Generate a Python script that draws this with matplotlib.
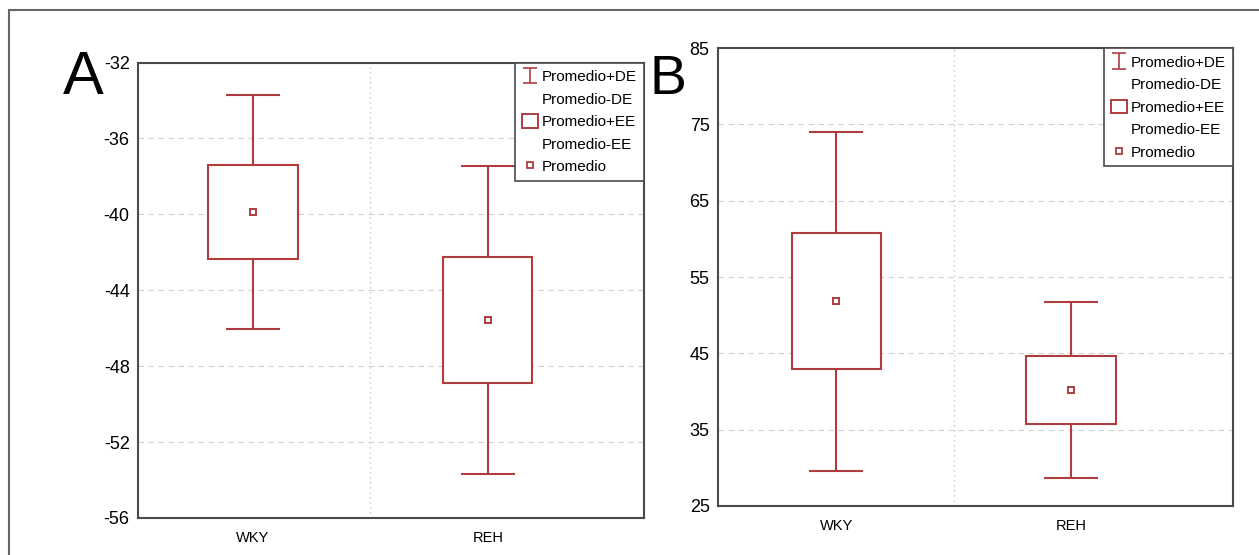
import numpy as np
import matplotlib
matplotlib.use("Agg")
import matplotlib.pyplot as plt
from matplotlib.lines import Line2D
from matplotlib.patches import Rectangle

# datos
categorias = ["WKY", "REH"]

# panel A
promedio_a = [-39.87, -45.55]
ee_a = [2.48, 3.32]
de_a = [6.18, 8.12]

# panel B
promedio_b = [51.85, 40.2]
ee_b = [8.87, 4.49]
de_b = [22.2, 11.55]

etiquetas = ["Promedio+DE", "Promedio-DE", "Promedio+EE", "Promedio-EE", "Promedio"]

rojo = "#b03c3e"
gris = "#4a4a4a"

plt.rcParams["font.family"] = ["Liberation Sans", "DejaVu Sans"]

fig = plt.figure(figsize=(12.59, 5.55), dpi=100)

# marco exterior (recortado a la derecha y abajo)
fig.add_artist(Rectangle((9 / 1259, -0.1), 1.2, 1 - 10 / 555 + 0.1,
                         transform=fig.transFigure, fill=False,
                         edgecolor="#666666", linewidth=1.5))


def panel(ax, promedio, ee, de, ylim, yticks, xlim):
    x = np.arange(1, len(categorias) + 1)
    promedio = np.array(promedio)
    ee = np.array(ee)
    de = np.array(de)

    # bigotes promedio +/- DE
    ax.errorbar(x, promedio, yerr=de, fmt="none", ecolor=rojo,
                elinewidth=1.5, capsize=19.5, capthick=1.5, zorder=2)
    # caja promedio +/- EE
    ax.bar(x, 2 * ee, bottom=promedio - ee, width=0.38, facecolor="white",
           edgecolor=rojo, linewidth=1.5, zorder=3)
    # promedio
    ax.plot(x, promedio, "s", mfc="none", mec=rojo, ms=4.5, mew=1.4, zorder=4)

    ax.set_xlim(*xlim)
    ax.set_ylim(*ylim)
    ax.set_yticks(yticks)
    ax.set_yticklabels([str(t) for t in yticks], fontsize=13)
    ax.set_xticks(x)
    ax.set_xticklabels(categorias, fontsize=10.5)
    ax.tick_params(axis="both", length=0, pad=6)
    ax.tick_params(axis="x", pad=9)

    # rejilla
    ax.grid(axis="y", linestyle=(0, (5, 4)), color="#d0d0d0", linewidth=0.8)
    ax.axvline(1.5, linestyle=(0, (1, 3)), color="#bdbdbd", linewidth=0.9, zorder=0)
    ax.set_axisbelow(True)

    for s in ax.spines.values():
        s.set_color(gris)
        s.set_linewidth(1.5)

    # leyenda
    h_de = ax.errorbar([np.nan], [np.nan], yerr=[1], fmt="none", ecolor=rojo,
                       elinewidth=1.2, capsize=5, capthick=1.2)
    h_vacio = Line2D([], [], linestyle="none")
    h_ee = Rectangle((0, 0), 1, 1, facecolor="white", edgecolor=rojo, linewidth=1.4)
    h_prom = Line2D([], [], marker="s", linestyle="none", mfc="none",
                    mec=rojo, ms=4, mew=1.3)
    leg = ax.legend([h_de, h_vacio, h_ee, h_vacio, h_prom], etiquetas,
                    loc="upper right", bbox_to_anchor=(1, 1), borderaxespad=0,
                    fontsize=11, frameon=True, fancybox=False, framealpha=1,
                    edgecolor=gris, handlelength=1.1, handleheight=1.0,
                    handletextpad=0.25, labelspacing=0.48, borderpad=0.45)
    leg.get_frame().set_linewidth(1.2)
    leg.set_zorder(10)


ax_a = fig.add_axes([138 / 1259, 1 - 518 / 555, 506 / 1259, 455.5 / 555])
panel(ax_a, promedio_a, ee_a, de_a, (-56, -32), list(range(-32, -57, -4)), (0.51, 2.665))

ax_b = fig.add_axes([718 / 1259, 1 - 506 / 555, 515 / 1259, 458 / 555])
panel(ax_b, promedio_b, ee_b, de_b, (25, 85), list(range(25, 86, 10)), (0.497, 2.69))

# letras de los paneles
fig.text(63 / 1259, 1 - 94 / 555, "A", fontsize=44, va="baseline", ha="left")
fig.text(650 / 1259, 1 - 94 / 555, "B", fontsize=40, va="baseline", ha="left")

fig.savefig("out.png", dpi=100)
